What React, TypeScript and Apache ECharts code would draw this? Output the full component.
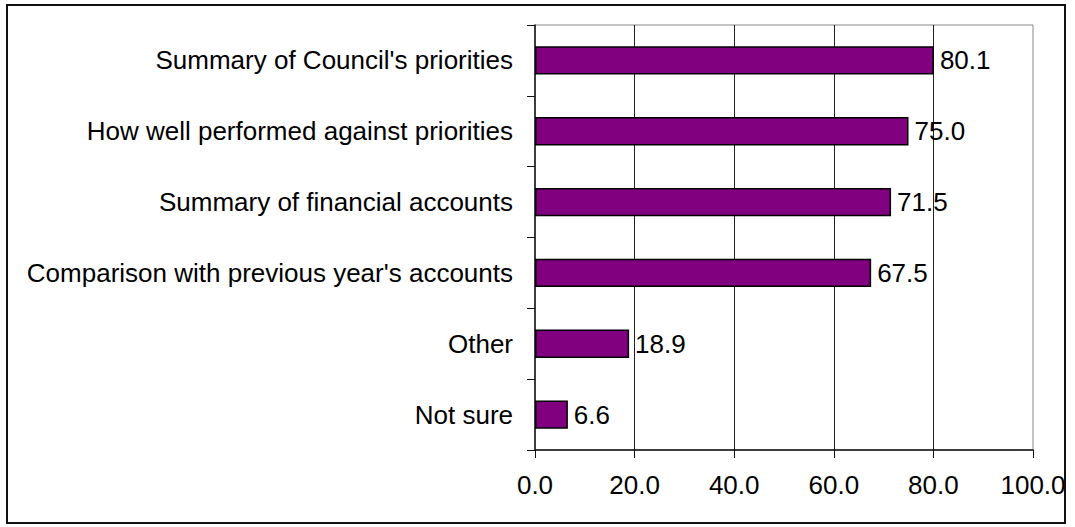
import React, { useEffect, useRef } from "react";
import * as echarts from "echarts";

const categories = [
  "Summary of Council's priorities",
  "How well performed against priorities",
  "Summary of financial accounts",
  "Comparison with previous year's accounts",
  "Other",
  "Not sure",
];
const values = [80.1, 75.0, 71.5, 67.5, 18.9, 6.6];
const xMin = 0;
const xMax = 100;
const xStep = 20;

const FONT = "'Liberation Sans', Arial, sans-serif";
const FS = 26;

export default function App() {
  const ref = useRef<HTMLDivElement>(null);
  useEffect(() => {
    if (!ref.current) return;
    const chart = echarts.init(ref.current, null, { renderer: "svg" });
    chart.setOption({
      animation: false,
      backgroundColor: "#fff",
      textStyle: { fontFamily: FONT },
      graphic: [
        {
          type: "rect",
          shape: { x: 7, y: 5, width: 1058, height: 518 },
          style: { fill: "none", stroke: "#111", lineWidth: 2 },
          z: 100,
        },
      ],
      grid: {
        left: 535,
        right: 42,
        top: 25,
        bottom: 77,
        show: true,
        borderColor: "#888",
        borderWidth: 1,
        containLabel: false,
      },
      xAxis: {
        type: "value",
        min: xMin,
        max: xMax,
        interval: xStep,
        axisLine: { show: true, lineStyle: { color: "#111", width: 1.5 } },
        axisTick: { show: true, length: 8, lineStyle: { color: "#111", width: 1 } },
        axisLabel: {
          color: "#000",
          fontSize: FS,
          fontFamily: FONT,
          margin: 22,
          formatter: (v: number) => v.toFixed(1),
        },
        splitLine: {
          show: true,
          showMinLine: false,
          showMaxLine: false,
          lineStyle: { color: "#222", width: 1 },
        },
      },
      yAxis: {
        type: "category",
        data: categories,
        inverse: true,
        axisLine: { show: true, lineStyle: { color: "#111", width: 1.5 } },
        axisTick: { show: true, length: 8, lineStyle: { color: "#111", width: 1 } },
        axisLabel: {
          color: "#000",
          fontSize: FS,
          fontFamily: FONT,
          margin: 22,
        },
        splitLine: { show: false },
      },
      series: [
        {
          type: "bar",
          data: values,
          barWidth: "40%",
          itemStyle: { color: "#800080", borderColor: "#000", borderWidth: 1.5 },
          label: {
            show: true,
            position: "right",
            distance: 6,
            color: "#000",
            fontSize: FS,
            fontFamily: FONT,
            formatter: (p: any) => Number(p.value).toFixed(1),
          },
        },
      ],
    });
    return () => chart.dispose();
  }, []);
  return (
    <div
      ref={ref}
      style={{ position: "fixed", left: 0, top: 0, width: 1075, height: 527 }}
    />
  );
}
